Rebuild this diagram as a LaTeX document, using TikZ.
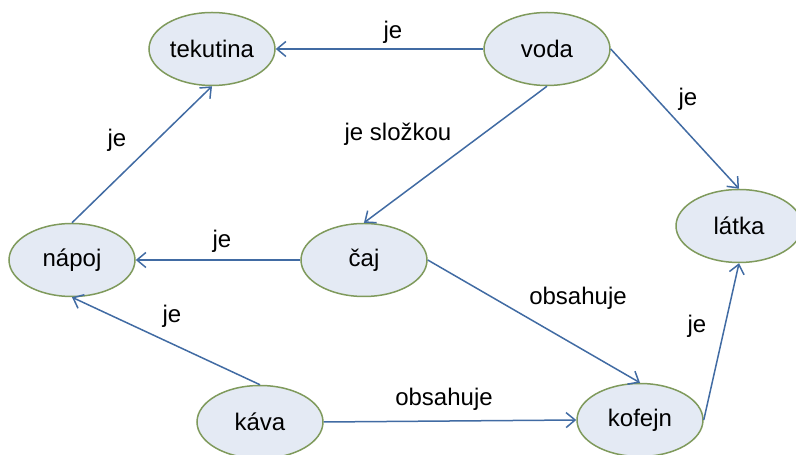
\documentclass[tikz,border=0pt]{standalone}
\usepackage{fontspec}
\setmainfont{Liberation Sans}
\usetikzlibrary{arrows.meta,shapes.geometric}
\definecolor{efill}{HTML}{E4EAF4}
\definecolor{edraw}{HTML}{7F9A5C}
\definecolor{eline}{HTML}{416BA3}
\tikzset{
  concept/.style={ellipse, draw=edraw, fill=efill, line width=1.5pt,
    minimum width=126pt, minimum height=73pt, inner sep=0pt,
    font=\fontsize{24}{24}\selectfont},
  rel/.style={draw=eline, line width=1.5pt,
    -{Straight Barb[length=9pt,width=15pt,line width=1.5pt]}},
  lbl/.style={anchor=base, inner sep=0pt, font=\fontsize{24}{24}\selectfont}
}
\begin{document}
\begin{tikzpicture}[x=1pt,y=1pt]
\useasboundingbox (0,0) rectangle (796,455);
\node[concept] (tekutina) at (212,406) {tekutina};
\node[concept] (voda) at (547,406) {voda};
\node[concept] (latka) at (739,229) {látka};
\node[concept] (napoj) at (72,195) {nápoj};
\node[concept] (caj) at (364,195) {čaj};
\node[concept] (kava) at (260,33) {káva};
\node[concept] (kofejn) at (640,35) {kofejn};

\draw[rel] (voda.west) -- (tekutina.east);
\draw[rel] (voda.east) -- (latka.north);
\draw[rel] (voda.south) -- (caj.north);
\draw[rel] (caj.west) -- (napoj.east);
\draw[rel] (napoj.north) -- (tekutina.south);
\draw[rel] (kava.north) -- (napoj.south);
\draw[rel] (kava.east) -- (kofejn.west);
\draw[rel] (caj.east) -- (kofejn.north);
\draw[rel] (kofejn.east) -- (latka.south);

\node[lbl] (l1) at (393,416) {je};
\node[lbl] (l2) at (688,349) {je};
\node[lbl] (l3) at (398,314) {je složkou};
\node[lbl] (l4) at (222,207) {je};
\node[lbl] (l5) at (117,308) {je};
\node[lbl] (l6) at (172,132) {je};
\node[lbl] (l7) at (444,49) {obsahuje};
\node[lbl] (l8) at (578,150) {obsahuje};
\node[lbl] (l9) at (697,122) {je};
\end{tikzpicture}
\end{document}
